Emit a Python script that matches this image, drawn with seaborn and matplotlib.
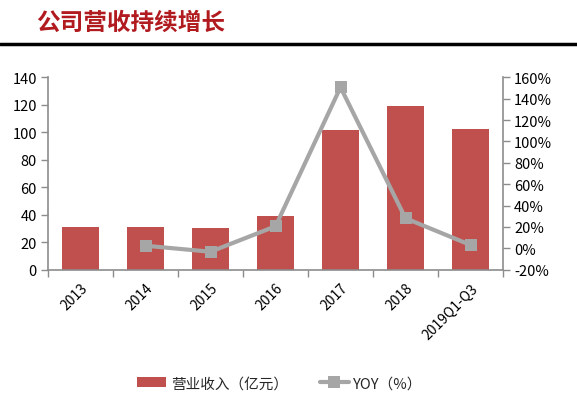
#!/usr/bin/env python3
import numpy as np
import pandas as pd
import matplotlib
matplotlib.use('Agg')
import matplotlib.pyplot as plt
import seaborn as sns

# 数据
years = ['2013', '2014', '2015', '2016', '2017', '2018', '2019Q1-Q3']
revenue = [31.0, 31.0, 30.1, 38.9, 101.7, 119.4, 102.6]      # 营业收入（亿元）
yoy = [np.nan, 2.4, -3.2, 20.6, 150.7, 28.1, 3.1]            # YOY（%）
left_ticks = [0, 20, 40, 60, 80, 100, 120, 140]
right_ticks = [-20, 0, 20, 40, 60, 80, 100, 120, 140, 160]

BAR_COLOR = '#C0504D'
LINE_COLOR = '#A6A6A6'
AXIS_COLOR = '#8C8C8C'


def main():
    sns.set_theme(style="white")
    plt.rcParams['font.family'] = ['Noto Sans CJK SC', 'DejaVu Sans']

    df = pd.DataFrame({'year': years, 'revenue': revenue, 'yoy': yoy})
    df['pos'] = np.arange(len(df))

    fig = plt.figure(figsize=(5.77, 4.06), dpi=100)
    ax = fig.add_axes([0.0832, 0.3333, 0.7886, 0.4737])

    sns.barplot(data=df, x='year', y='revenue', color=BAR_COLOR,
                saturation=1, width=0.575, linewidth=0, ax=ax,
                label='营业收入（亿元）')
    if ax.get_legend() is not None:
        ax.get_legend().remove()
    ax.set_xlim(-0.5, len(years) - 0.5)
    ax.set_ylim(0, 140)
    ax.set_yticks(left_ticks)
    ax.set_xlabel('')
    ax.set_ylabel('')

    ax2 = ax.twinx()
    d2 = df.dropna(subset=['yoy'])
    sns.lineplot(data=d2, x='pos', y='yoy', color=LINE_COLOR, linewidth=3,
                 marker='s', markersize=9, markeredgewidth=0,
                 ax=ax2, label='YOY（%）', legend=False)
    if ax2.get_legend() is not None:
        ax2.get_legend().remove()
    ax2.set_ylim(-20, 160)
    ax2.set_yticks(right_ticks)
    ax2.set_yticklabels([f'{t}%' for t in right_ticks])
    ax2.set_ylabel('')
    ax2.set_xlim(-0.5, len(years) - 0.5)

    # 坐标轴样式
    for a in (ax, ax2):
        for name, spine in a.spines.items():
            spine.set_visible(name in ('left', 'bottom', 'right'))
            spine.set_color(AXIS_COLOR)
            spine.set_linewidth(1.2)
    ax.spines['right'].set_visible(False)
    ax2.spines['left'].set_visible(False)
    ax2.spines['bottom'].set_visible(False)

    ax.tick_params(axis='y', direction='out', length=5, width=1,
                   color=AXIS_COLOR, labelsize=10.5, labelcolor='black', pad=3,
                   left=True)
    ax2.tick_params(axis='y', direction='out', length=5, width=1,
                    color=AXIS_COLOR, labelsize=10.5, labelcolor='black', pad=3,
                    right=True)

    # x轴：类别标签 + 类别之间的刻度
    ax.set_xticks(np.arange(len(years)))
    ax.set_xticklabels(years, rotation=45, ha='right', rotation_mode='anchor')
    ax.tick_params(axis='x', which='major', length=0, labelsize=10,
                   labelcolor='black', pad=8)
    ax.set_xticks(np.arange(len(years) + 1) - 0.5, minor=True)
    ax.tick_params(axis='x', which='minor', direction='out', length=5,
                   width=1, color=AXIS_COLOR, bottom=True)
    ax2.tick_params(axis='x', which='both', bottom=False, top=False,
                    labelbottom=False)

    # 标题和分隔线
    fig.text(0.062, 0.943, '公司营收持续增长', fontsize=17, fontweight='bold',
             color='#B11A1E', ha='left', va='center')
    fig.add_artist(plt.Line2D([0, 1], [0.889, 0.889], color='black',
                              linewidth=2.5, transform=fig.transFigure))

    # 图例
    h1, l1 = ax.get_legend_handles_labels()
    h2, l2 = ax2.get_legend_handles_labels()
    fig.legend(h1 + h2, l1 + l2, loc='center', bbox_to_anchor=(0.485, 0.053),
               ncol=2, frameon=False, fontsize=10.5, columnspacing=2.2,
               handlelength=2.0, handletextpad=0.3)

    fig.savefig('out.png', dpi=100)


if __name__ == "__main__":
    main()
